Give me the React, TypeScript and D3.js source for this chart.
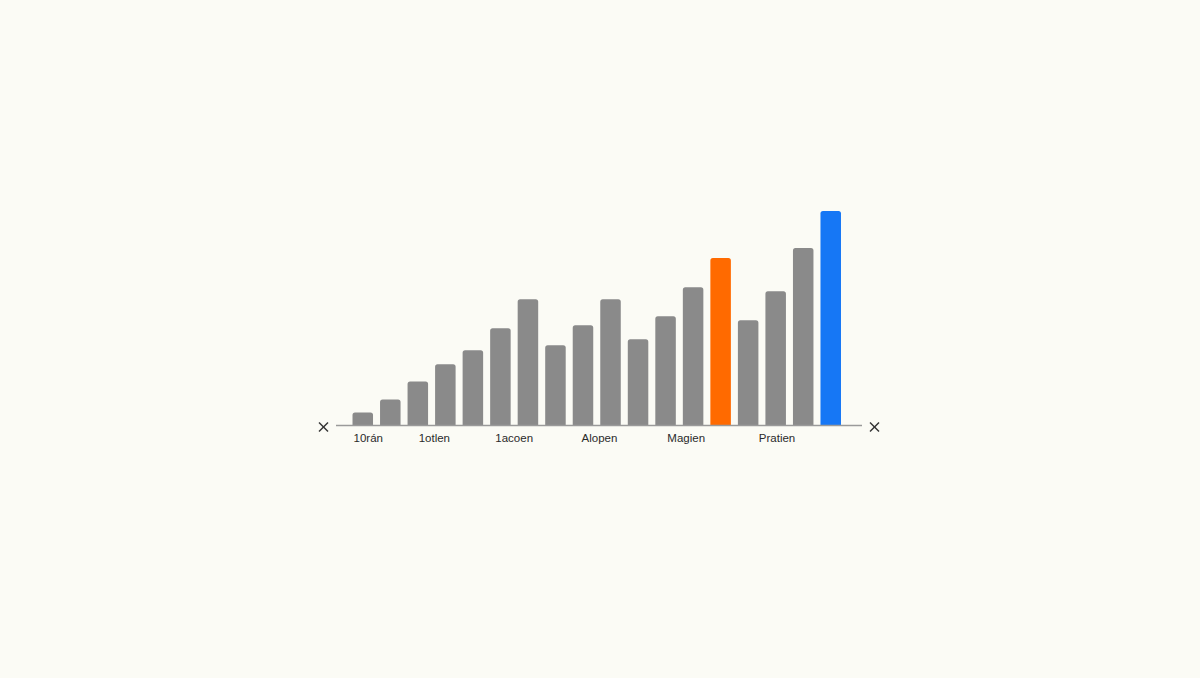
import * as d3 from "d3";
import { useEffect, useRef } from "react";

// bar heights (arbitrary units)
const values = [13, 26, 44, 61, 75, 97, 126, 80, 100, 126, 86, 109, 138, 167, 105, 134, 177, 214];
const highlight: Record<number, string> = { 13: "#ff6a00", 17: "#1677f5" };
// tick labels and the (fractional) bar index they sit under
const tickLabels = ["10rán", "1otlen", "1acoen", "Alopen", "Magien", "Pratien"];
const tickAt = [0.2, 2.6, 5.5, 8.6, 11.75, 15.05];

const W = 1200;
const H = 678;
const baseY = 425.5;

const App = () => {
  const ref = useRef<SVGSVGElement>(null);

  useEffect(() => {
    if (!ref.current) return;
    const svg = d3.select(ref.current);
    svg.selectAll("*").remove();

    svg.append("rect").attr("width", W).attr("height", H).attr("fill", "#fbfbf5");

    const x = d3
      .scaleBand<number>()
      .domain(values.map((_, i) => i))
      .range([349, 844.5])
      .paddingInner(0.255)
      .paddingOuter(0.1275);

    const y = d3.scaleLinear().domain([0, 214]).range([baseY, 211]);

    const bw = x.bandwidth();
    const r = 2.5;
    const barPath = (i: number, v: number) => {
      const p = d3.path();
      const x0 = x(i)!;
      const y0 = y(v);
      p.moveTo(x0, baseY);
      p.lineTo(x0, y0 + r);
      p.arcTo(x0, y0, x0 + r, y0, r);
      p.lineTo(x0 + bw - r, y0);
      p.arcTo(x0 + bw, y0, x0 + bw, y0 + r, r);
      p.lineTo(x0 + bw, baseY);
      p.closePath();
      return p.toString();
    };

    svg
      .append("g")
      .selectAll("path")
      .data(values)
      .join("path")
      .attr("d", (v, i) => barPath(i, v))
      .attr("fill", (_, i) => highlight[i] ?? "#8a8a8a");

    // baseline
    svg
      .append("line")
      .attr("x1", 336)
      .attr("x2", 862)
      .attr("y1", baseY)
      .attr("y2", baseY)
      .attr("stroke", "#9a9a9a")
      .attr("stroke-width", 1.5);

    // x markers at both ends
    const cross = (cx: number, cy: number) => {
      const s = 4.5;
      const g = svg.append("g").attr("stroke", "#333").attr("stroke-width", 1.4);
      g.append("line").attr("x1", cx - s).attr("y1", cy - s).attr("x2", cx + s).attr("y2", cy + s);
      g.append("line").attr("x1", cx - s).attr("y1", cy + s).attr("x2", cx + s).attr("y2", cy - s);
    };
    cross(323.5, 427);
    cross(874.5, 427);

    const lx = d3
      .scaleLinear()
      .domain([0, values.length - 1])
      .range([x(0)! + bw / 2, x(values.length - 1)! + bw / 2]);

    svg
      .append("g")
      .selectAll("text")
      .data(tickLabels)
      .join("text")
      .attr("x", (_, i) => lx(tickAt[i]))
      .attr("y", 442)
      .attr("text-anchor", "middle")
      .attr("font-family", "'Liberation Sans', Arial, sans-serif")
      .attr("font-size", 11.5)
      .attr("fill", "#2a2a2a")
      .text((d) => d);
  }, []);

  return (
    <div style={{ position: "fixed", left: 0, top: 0, width: W, height: H }}>
      <svg ref={ref} width={W} height={H} style={{ display: "block" }} />
    </div>
  );
};

export default App;
